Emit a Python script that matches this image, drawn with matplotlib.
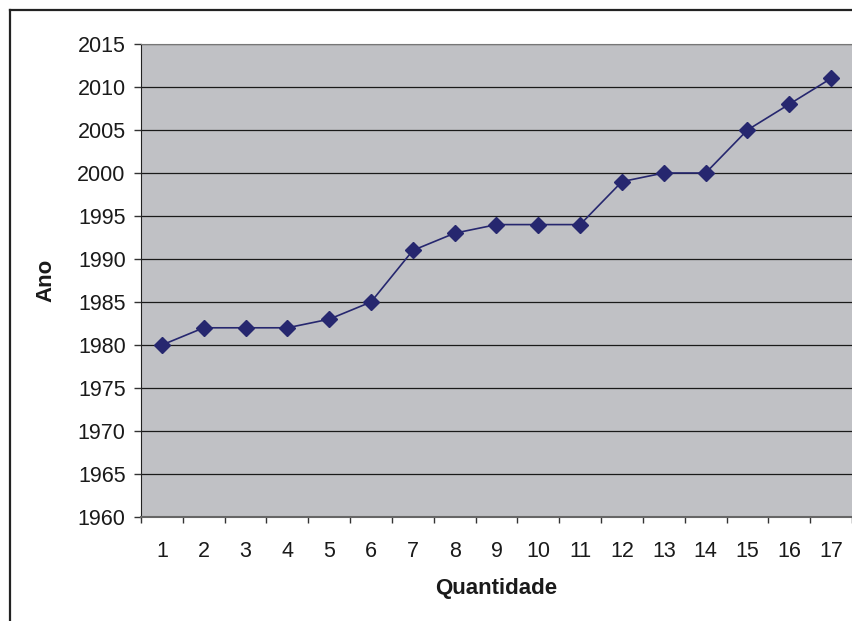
import matplotlib
matplotlib.use('Agg')
import matplotlib.pyplot as plt
from matplotlib.lines import Line2D

# data
quantidade = list(range(1, 18))
ano = [1980, 1982, 1982, 1982, 1983, 1985, 1991, 1993, 1994,
       1994, 1994, 1999, 2000, 2000, 2005, 2008, 2011]
y_ticks = list(range(1960, 2016, 5))

plt.rcParams['font.family'] = ['Liberation Sans', 'DejaVu Sans']

fig = plt.figure(figsize=(8.53, 6.21), dpi=100)
fig.patch.set_facecolor('white')

# outer chart frame (cut off at right and bottom like the scan)
W, H = 853, 621
fig.add_artist(Line2D([10 / W, 10 / W], [0, 1 - 10 / H], transform=fig.transFigure,
                      color='#222222', lw=1.6))
fig.add_artist(Line2D([10 / W, 1], [1 - 10 / H, 1 - 10 / H], transform=fig.transFigure,
                      color='#222222', lw=1.6))

ax = fig.add_axes([141 / W, 1 - 517 / H, (852 - 141) / W, (517 - 44) / H])
ax.set_facecolor('#C0C1C5')

ax.plot(quantidade, ano, color='#26276F', lw=1.2, marker='D', markersize=8.5,
        markerfacecolor='#26276F', markeredgecolor='#26276F', zorder=3)

ax.set_xlim(0.5, 17.5)
ax.set_ylim(1960, 2015)
ax.set_yticks(y_ticks)
ax.set_xticks(quantidade)
ax.set_xticks([q + 0.5 for q in range(0, 18)], minor=True)
ax.grid(axis='y', color='#1a1a1a', lw=0.9)
ax.set_axisbelow(True)

ax.tick_params(axis='x', which='major', length=0, labelsize=15.5, pad=17, colors='#1a1a1a')
ax.tick_params(axis='x', which='minor', length=4, width=1, color='#333333')
ax.tick_params(axis='y', length=5, width=1, labelsize=15.5, pad=6, color='#333333',
               labelcolor='#1a1a1a')

ax.spines['top'].set_color('#777777')
ax.spines['right'].set_visible(False)
ax.spines['left'].set_color('#222222')
ax.spines['bottom'].set_color('#666666')
ax.spines['bottom'].set_linewidth(1.5)

ax.set_xlabel('Quantidade', fontsize=16, fontweight='bold', labelpad=12, color='#1a1a1a')
ax.set_ylabel('Ano', fontsize=16, fontweight='bold', labelpad=15, color='#1a1a1a')

plt.savefig('out.png', dpi=100, facecolor='white')
